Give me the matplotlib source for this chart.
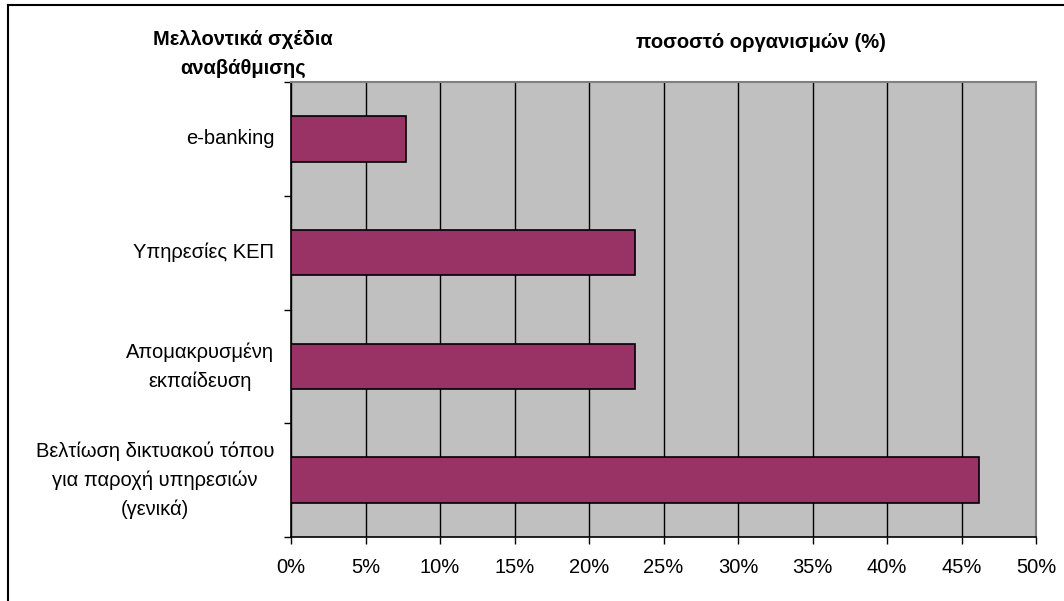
import matplotlib
matplotlib.use("Agg")
import matplotlib.pyplot as plt
from matplotlib.lines import Line2D
from matplotlib.ticker import FuncFormatter, FixedLocator, NullFormatter

plt.rcParams['font.family'] = ['Liberation Sans', 'DejaVu Sans']

categories = ["Βελτίωση δικτυακού τόπου\nγια παροχή υπηρεσιών\n(γενικά)",
              "Απομακρυσμένη\nεκπαίδευση",
              "Υπηρεσίες ΚΕΠ",
              "e-banking"]
values = [46.15, 23.08, 23.08, 7.69]
xticks = [0, 5, 10, 15, 20, 25, 30, 35, 40, 45, 50]
y_title = "Μελλοντικά σχέδια\nαναβάθμισης"
x_title = "ποσοστό οργανισμών (%)"

fig = plt.figure(figsize=(10.64, 6.01), dpi=100)
ax = fig.add_axes([291/1064, 1-537/601, (1036-291)/1064, (537-82)/601])
ax.set_facecolor('#C0C0C0')

pos = list(range(len(categories)))
ax.barh(pos, values, height=0.4, color='#993366', edgecolor='black', linewidth=1.2, zorder=3)
ax.set_xlim(0, 50)
ax.set_ylim(-0.5, len(categories) - 0.5)

ax.set_xticks(xticks)
ax.xaxis.set_major_formatter(FuncFormatter(lambda v, p: f"{int(v)}%"))
ax.grid(axis='x', color='black', linewidth=1.0, zorder=1)
ax.set_axisbelow(True)

ax.set_yticks(pos)
ax.set_yticklabels(categories, ha='right', va='center', multialignment='center',
                   linespacing=1.6)
ax.yaxis.set_minor_locator(FixedLocator([p - 0.5 for p in pos] + [len(pos) - 0.5]))
ax.yaxis.set_minor_formatter(NullFormatter())
ax.tick_params(axis='y', which='major', length=0, pad=12, labelsize=14.5)
ax.tick_params(axis='y', which='minor', length=5, width=1, color='black', direction='out')
ax.tick_params(axis='x', length=5, width=1, color='black', labelsize=14.5, pad=10)

for s in ['top', 'right']:
    ax.spines[s].set_color('#808080')
    ax.spines[s].set_linewidth(1.5)
for s in ['left', 'bottom']:
    ax.spines[s].set_color('black')
    ax.spines[s].set_linewidth(1.2)

fig.text(243/1064, 1-54/601, y_title, ha='center', va='center', fontsize=14.5,
         fontweight='bold', linespacing=1.6)
fig.text(761/1064, 1-43/601, x_title, ha='center', va='center', fontsize=14.5,
         fontweight='bold')

fig.add_artist(Line2D([8/1064, 1], [1-5/601, 1-5/601], transform=fig.transFigure, color='black', linewidth=1.5))
fig.add_artist(Line2D([8/1064, 8/1064], [0, 1-5/601], transform=fig.transFigure, color='black', linewidth=1.5))

fig.savefig('out.png', dpi=100)
